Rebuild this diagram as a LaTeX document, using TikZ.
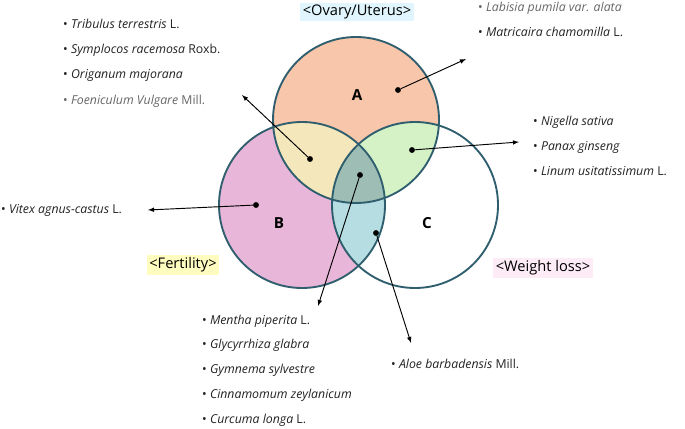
\documentclass[tikz,border=0pt]{standalone}
\usepackage{fontspec}
\setmainfont{Open Sans}
\definecolor{ringcol}{HTML}{2F5F6E}
\definecolor{fillA}{HTML}{F8C6AA}
\definecolor{fillB}{HTML}{E8B6D8}
\definecolor{fillAB}{HTML}{F5E7BC}
\definecolor{fillAC}{HTML}{D5F2C6}
\definecolor{fillBC}{HTML}{B6DEE2}
\definecolor{fillABC}{HTML}{9DBDB5}
\definecolor{txtcol}{HTML}{222222}
\definecolor{greytxt}{HTML}{666666}
\tikzset{
  item/.style={anchor=west, inner sep=0pt, font=\fontsize{10.5}{12}\selectfont, text=txtcol},
  greyitem/.style={item, text=greytxt},
  setlabel/.style={font=\fontsize{12.5}{14}\selectfont, inner sep=2pt},
  letter/.style={font=\bfseries\fontsize{13}{15}\selectfont},
  dot/.style={circle, fill=black, inner sep=0pt, minimum size=5pt},
  pointer/.style={-latex, thick}
}
\begin{document}
\begin{tikzpicture}[x=0.03cm, y=-0.03cm]
\useasboundingbox (0,0) rectangle (685,428);
% circle fills
\fill[fillA] (356,120) circle (83);
\fill[fillB] (302,205) circle (83);
\begin{scope}
  \clip (356,120) circle (83);
  \fill[fillAB] (302,205) circle (83);
  \fill[fillAC] (415,205) circle (83);
  \clip (302,205) circle (83);
  \fill[fillABC] (415,205) circle (83);
\end{scope}
\begin{scope}
  \clip (302,205) circle (83);
  \clip (415,205) circle (83);
  \fill[fillBC] (356,120) circle (200);
  \clip (356,120) circle (83);
  \fill[fillABC] (356,120) circle (83);
\end{scope}
% rings
\foreach \c in {(356,120),(302,205),(415,205)}
  \draw[ringcol, line width=1.6pt] \c circle (83);
\node[letter] at (357,95) {A};
\node[letter] at (279,223) {B};
\node[letter] at (427,223) {C};
% set titles
\node[setlabel, fill=cyan!12] (ovary) at (357,12) {<Ovary/Uterus>};
\node[setlabel, fill=yellow!25] (fert) at (183,265) {<Fertility>};
\node[setlabel, fill=magenta!8] (wloss) at (543,268) {<Weight loss>};
% dots
\node[dot] (dA) at (398,90) {};
\node[dot] (dAB) at (310,159) {};
\node[dot] (dAC) at (412,150) {};
\node[dot] (dB) at (256,205) {};
\node[dot] (dABC) at (360,175) {};
\node[dot] (dBC) at (376,233) {};
% arrow ends
\coordinate (eA) at (466,59);
\coordinate (eAB) at (242,95);
\coordinate (eAC) at (519,142);
\coordinate (eB) at (148,210);
\coordinate (eABC) at (318,306);
\coordinate (eBC) at (411,343);
\foreach \s in {A,AB,AC,B,ABC,BC}
  \draw[pointer] (d\s) -- (e\s);
% lists
\node[item] (ab1) at (63,24) {• \textit{Tribulus terrestris} L.};
\node[item] (ab2) at (63,50) {• \textit{Symplocos racemosa} Roxb.};
\node[item] (ab3) at (63,75) {• \textit{Origanum majorana}};
\node[greyitem] (ab4) at (63,101) {• \textit{Foeniculum Vulgare} Mill.};
\node[greyitem] (a1) at (478,8) {• \textit{Labisia pumila var. alata}};
\node[item] (a2) at (478,32) {• \textit{Matricaira chamomilla} L.};
\node[item] (ac1) at (533,122) {• \textit{Nigella sativa}};
\node[item] (ac2) at (533,147) {• \textit{Panax ginseng}};
\node[item] (ac3) at (533,171) {• \textit{Linum usitatissimum} L.};
\node[item] (b1) at (1,210) {• \textit{Vitex agnus-castus} L.};
\node[item] (abc1) at (202,321) {• \textit{Mentha piperita} L.};
\node[item] (abc2) at (202,345) {• \textit{Glycyrrhiza glabra}};
\node[item] (abc3) at (202,370) {• \textit{Gymnema sylvestre}};
\node[item] (abc4) at (202,395) {• \textit{Cinnamomum zeylanicum}};
\node[item] (abc5) at (202,420) {• \textit{Curcuma longa} L.};
\node[item] (bc1) at (391,364) {• \textit{Aloe barbadensis} Mill.};
\end{tikzpicture}
\end{document}
